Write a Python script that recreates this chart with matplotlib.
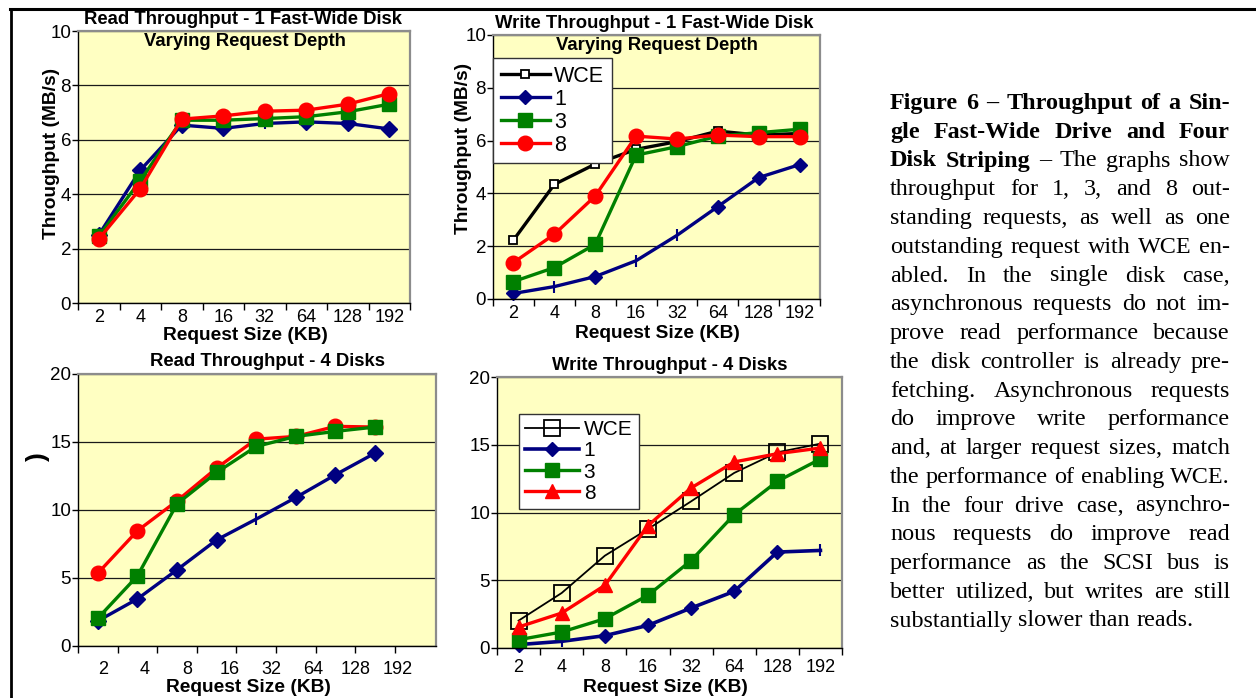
import numpy as np
import matplotlib.pyplot as plt
from matplotlib.lines import Line2D

W, H = 1256, 698

sizes = ['2', '4', '8', '16', '32', '64', '128', '192']

# Read Throughput - 1 Fast-Wide Disk (MB/s)
read1_q1 = [2.5, 4.88, 6.54, 6.42, 6.6, 6.66, 6.6, 6.4]
read1_q3 = [2.45, 4.5, 6.72, 6.72, 6.78, 6.85, 7.03, 7.31]
read1_q8 = [2.35, 4.2, 6.76, 6.88, 7.05, 7.09, 7.31, 7.7]

# Write Throughput - 1 Fast-Wide Disk (MB/s)
write1_wce = [2.23, 4.34, 5.11, 5.67, 5.96, 6.36, 6.21, 6.27]
write1_q1 = [0.21, 0.47, 0.85, 1.45, 2.41, 3.5, 4.6, 5.09]
write1_q3 = [0.66, 1.19, 2.07, 5.45, 5.77, 6.17, 6.3, 6.43]
write1_q8 = [1.38, 2.45, 3.9, 6.17, 6.06, 6.21, 6.15, 6.15]

# Read Throughput - 4 Disks
read4_q1 = [1.84, 3.46, 5.6, 7.8, 9.33, 10.92, 12.59, 14.18]
read4_q3 = [2.04, 5.15, 10.45, 12.76, 14.67, 15.41, 15.78, 16.1]
read4_q8 = [5.35, 8.47, 10.67, 13.08, 15.21, 15.41, 16.15, 16.1]

# Write Throughput - 4 Disks
write4_wce = [2.02, 4.06, 6.81, 8.78, 10.82, 12.92, 14.44, 15.08]
write4_q1 = [0.25, 0.49, 0.91, 1.67, 2.95, 4.18, 7.08, 7.2]
write4_q3 = [0.61, 1.18, 2.16, 3.89, 6.45, 9.84, 12.3, 13.95]
write4_q8 = [1.55, 2.58, 4.62, 9.03, 11.81, 13.73, 14.34, 14.76]

caption = [
    [("Figure 6 \u2013 Throughput of a Sin-", "bold")],
    [("gle Fast-Wide Drive and Four", "bold")],
    [("Disk Striping", "bold"), ("\u2013 The graphs show", "normal")],
    [("throughput for 1, 3, and 8 out-", "normal")],
    [("standing requests, as well as one", "normal")],
    [("outstanding request with WCE en-", "normal")],
    [("abled. In the single disk case,", "normal")],
    [("asynchronous requests do not im-", "normal")],
    [("prove read performance because", "normal")],
    [("the disk controller is already pre-", "normal")],
    [("fetching. Asynchronous requests", "normal")],
    [("do improve write performance", "normal")],
    [("and, at larger request sizes, match", "normal")],
    [("the performance of enabling WCE.", "normal")],
    [("In the four drive case, asynchro-", "normal")],
    [("nous requests do improve read", "normal")],
    [("performance as the SCSI bus is", "normal")],
    [("better utilized, but writes are still", "normal")],
    [("substantially slower than reads.", "normal")],
]

NAVY, GREEN, RED = '#000080', '#008000', '#FF0000'
YELLOW = '#FFFFC2'
SANS = ['Liberation Sans', 'DejaVu Sans']

plt.rcParams['font.family'] = SANS

fig = plt.figure(figsize=(W / 100, H / 100), dpi=100)


def px_axes(x0, y0, x1, y1):
    return fig.add_axes([x0 / W, 1 - y1 / H, (x1 - x0) / W, (y1 - y0) / H])


def ftext(x, y, s, **kw):
    return fig.text(x / W, 1 - y / H, s, **kw)


def setup(ax, ymax, ystep, span, label_pos=None, xpad=4):
    ax.set_facecolor(YELLOW)
    ax.set_xlim(0, span)
    ax.set_ylim(0, ymax)
    ax.set_yticks(np.arange(0, ymax + 1, ystep))
    ax.yaxis.grid(True, color='#1a1a1a', lw=0.9)
    ax.set_axisbelow(True)
    ax.set_xticks(np.arange(len(sizes) + 1))
    ax.set_xticklabels([])
    if label_pos is None:
        label_pos = np.arange(len(sizes)) + 0.5
    ax.set_xticks(label_pos, minor=True)
    ax.set_xticklabels(sizes, minor=True)
    ax.tick_params(axis='x', which='minor', length=0, pad=xpad, labelsize=13)
    ax.tick_params(axis='x', which='major', direction='out', length=5, width=1)
    ax.tick_params(axis='y', direction='out', length=4, width=1, pad=1, labelsize=13.5)
    for s in ['top', 'right']:
        ax.spines[s].set_color('#8c8c8c')
        ax.spines[s].set_linewidth(1.6)
    for s in ['left', 'bottom']:
        ax.spines[s].set_color('black')
        ax.spines[s].set_linewidth(1.0)


def series(ax, y, color, marker, ms, lw, label=None, ticks=(), **kw):
    x = np.arange(len(y)) + 0.5
    keep = [i for i in range(len(y)) if i not in ticks]
    ax.plot(x, y, color=color, lw=lw, marker=marker, ms=ms, markevery=keep,
            label=label, clip_on=False, **kw)
    if ticks:
        ax.plot(x[list(ticks)], np.array(y)[list(ticks)], ls='none', marker='|',
                ms=9, mew=1.5, color=color, clip_on=False)


# ---- top left
ax1 = px_axes(78, 31, 410, 303)
setup(ax1, 10, 2, 8)
series(ax1, read1_q1, NAVY, 'D', 8.5, 2.4, ticks=(4,))
series(ax1, read1_q3, GREEN, 's', 9.5, 2.4)
series(ax1, read1_q8, RED, 'o', 10.5, 2.4)

# ---- top right
ax2 = px_axes(493, 35, 820, 299)
setup(ax2, 10, 2, 8)
series(ax2, write1_wce, 'black', 's', 6, 2.4, label='WCE', mfc='white', mew=1.3)
series(ax2, write1_q1, NAVY, 'D', 7.5, 2.4, label='1', ticks=(1, 3, 4))
series(ax2, write1_q3, GREEN, 's', 10, 2.4, label='3')
series(ax2, write1_q8, RED, 'o', 10.5, 2.4, label='8')
leg = ax2.legend(loc='upper left', bbox_to_anchor=(0, 0.913), borderaxespad=0,
                 fontsize=15.5, handlelength=2.3, handletextpad=0.2,
                 labelspacing=0.1, borderpad=0.35, fancybox=False, framealpha=1)
leg.get_frame().set_edgecolor('#333333')
leg.get_frame().set_linewidth(1.0)

# ---- bottom left (axis spans a bit more than 8 categories, labels shifted)
ax3 = px_axes(78, 374, 436, 646)
span3 = 358 / 39.6
setup(ax3, 20, 5, span3, label_pos=0.63 + np.arange(len(sizes)) * 1.064, xpad=11)
series(ax3, read4_q1, NAVY, 'D', 8.5, 2.4, ticks=(4,))
series(ax3, read4_q8, RED, 'o', 10.5, 2.4)
series(ax3, read4_q3, GREEN, 's', 10.5, 2.4)

# ---- bottom right
ax4 = px_axes(497, 377, 842, 648)
setup(ax4, 20, 5, 8, xpad=8)
series(ax4, write4_wce, 'black', 's', 11, 1.3, label='WCE', mfc='none', mew=1.3)
series(ax4, write4_q1, NAVY, 'D', 7.5, 2.6, label='1', ticks=(1, 7))
series(ax4, write4_q3, GREEN, 's', 10.5, 2.4, label='3')
series(ax4, write4_q8, RED, '^', 10.5, 2.4, label='8')
leg4 = ax4.legend(loc='upper left', bbox_to_anchor=(0.064, 0.863), borderaxespad=0,
                  fontsize=15, handlelength=2.6, handletextpad=0.2,
                  labelspacing=0.1, borderpad=0.3, fancybox=False, framealpha=1)
leg4.get_frame().set_edgecolor('#333333')
leg4.get_frame().set_linewidth(1.0)

# ---- chart texts
bold = dict(fontweight='bold', ha='center', va='center', fontsize=13.3)
ftext(243, 20, 'Read Throughput - 1 Fast-Wide Disk', **bold)
ftext(245, 42, 'Varying Request Depth', **bold)
ftext(654, 24, 'Write Throughput - 1 Fast-Wide Disk', **bold)
ftext(657, 46, 'Varying Request Depth', **bold)
ftext(267, 362, 'Read Throughput - 4 Disks', **bold)
ftext(670, 366, 'Write Throughput - 4 Disks', **bold)
lab = dict(bold, fontsize=13.8)
ftext(245, 336, 'Request Size (KB)', **lab)
ftext(657, 333, 'Request Size (KB)', **lab)
ftext(248, 687, 'Request Size (KB)', **lab)
ftext(665, 687, 'Request Size (KB)', **lab)
ftext(52, 153, 'Throughput (MB/s)', rotation=90, **lab)
ftext(463, 148, 'Throughput (MB/s)', rotation=90, **lab)
ftext(38, 457, ')', rotation=90, **dict(bold, fontsize=19))

# ---- frame lines of the page
fig.add_artist(Line2D([10 / W, 1], [1 - 8.5 / H] * 2, color='black', lw=2.2,
                      transform=fig.transFigure))
fig.add_artist(Line2D([11 / W] * 2, [1 - 8.5 / H, 0], color='black', lw=2.0,
                      transform=fig.transFigure))

# ---- justified caption on the right
SERIF = ['Liberation Serif', 'DejaVu Serif']
renderer = fig.canvas.get_renderer()
probe = ftext(0, 0, "the performance of enabling WCE.", family=SERIF, fontsize=10)
fs = 10 * 338 / probe.get_window_extent(renderer).width
probe.remove()

x_left, x_right = 890, 1230
for i, line in enumerate(caption):
    y = 109 + i * 28.75
    words = []
    for s, w in line:
        words += [(t, w) for t in s.split()]
    arts = [ftext(0, y, t, family=SERIF, fontsize=fs, fontweight=w, va='baseline')
            for t, w in words]
    widths = [a.get_window_extent(renderer).width for a in arts]
    if i == len(caption) - 1:
        gap = fs * 0.25 / 0.72
    else:
        gap = (x_right - x_left - sum(widths)) / (len(words) - 1)
    x = x_left
    for a, wd in zip(arts, widths):
        a.set_x(x / W)
        x += wd + gap

fig.savefig('out.png', dpi=100)
